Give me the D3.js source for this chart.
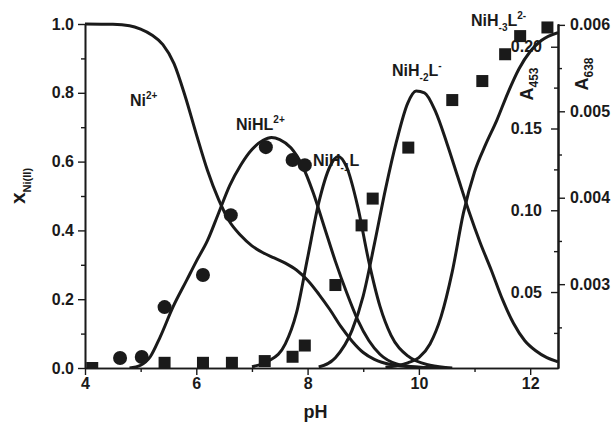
<!DOCTYPE html>
<html>
<head>
<meta charset="utf-8">
<script src="https://cdn.jsdelivr.net/npm/d3@7"></script>
<style>
  body { margin: 0; background: #fff; }
  svg text { font-family: "Liberation Sans", Arial, sans-serif; font-weight: bold; fill: #1a1a1a; }
</style>
</head>
<body>
<div id="chart"></div>
<script>
// species distribution curves, [pH, mole fraction]
const ni = [[4.0,1.0],[4.5,0.999],[4.8,0.995],[5.0,0.985],[5.2,0.968],[5.4,0.94],[5.6,0.885],[5.8,0.79],[6.0,0.68],[6.2,0.575],[6.4,0.49],[6.6,0.425],[6.8,0.385],[7.0,0.355],[7.2,0.335],[7.4,0.32],[7.6,0.305],[7.8,0.285],[8.0,0.255],[8.2,0.215],[8.4,0.17],[8.6,0.12],[8.8,0.078],[9.0,0.045],[9.2,0.025],[9.5,0.01],[10.0,0.002],[10.5,0]];
const niHL = [[4.8,0],[5.0,0.008],[5.17,0.032],[5.35,0.09],[5.58,0.177],[5.83,0.256],[6.0,0.31],[6.2,0.37],[6.4,0.45],[6.6,0.53],[6.8,0.59],[7.0,0.635],[7.2,0.662],[7.35,0.67],[7.5,0.664],[7.7,0.64],[7.9,0.59],[8.1,0.51],[8.3,0.41],[8.5,0.31],[8.7,0.22],[8.9,0.14],[9.1,0.08],[9.3,0.04],[9.6,0.012],[10.0,0.002],[10.4,0]];
const niH1L = [[7.0,0.004],[7.3,0.02],[7.6,0.07],[7.8,0.16],[8.0,0.32],[8.2,0.48],[8.4,0.585],[8.55,0.615],[8.7,0.585],[8.9,0.47],[9.1,0.31],[9.3,0.18],[9.5,0.095],[9.8,0.035],[10.2,0.008],[10.6,0]];
const niH2L = [[8.2,0.003],[8.5,0.03],[8.8,0.11],[9.0,0.21],[9.2,0.36],[9.4,0.52],[9.6,0.66],[9.8,0.77],[9.95,0.805],[10.1,0.8],[10.3,0.745],[10.5,0.655],[10.7,0.555],[10.9,0.455],[11.1,0.365],[11.3,0.285],[11.5,0.2],[11.7,0.13],[11.9,0.08],[12.1,0.05],[12.3,0.03],[12.5,0.018]];
const niH3L = [[9.4,0.002],[9.8,0.015],[10.0,0.03],[10.2,0.07],[10.4,0.15],[10.6,0.28],[10.8,0.45],[11.0,0.57],[11.2,0.65],[11.4,0.72],[11.6,0.8],[11.8,0.87],[12.0,0.92],[12.2,0.952],[12.5,0.975]];

// measured absorbances
const circlePH = [4.63,5.02,5.43,6.12,6.62,7.25,7.73,7.95];
const a453Vals = [0.0097,0.0103,0.0408,0.0604,0.097,0.1386,0.1307,0.1276];
const squarePH = [4.13,5.43,6.12,6.64,7.23,7.73,7.95,8.5,8.97,9.17,9.81,10.6,11.14,11.55,11.82,12.31];
const a638Vals = [0.00203,0.00209,0.00209,0.00209,0.00211,0.00216,0.00229,0.00299,0.00368,0.00399,0.00458,0.00513,0.00535,0.00566,0.00587,0.00597];

// ticks
const xTicks = [4,6,8,10,12];
const xMinor = [5,7,9,11];
const yTicks = [0,0.2,0.4,0.6,0.8,1.0];
const yMinor = [0.1,0.3,0.5,0.7,0.9];
const a453Ticks = [0.05,0.10,0.15,0.20];
const a453Minor = [0.025,0.075,0.125,0.175];
const a638Ticks = [0.003,0.004,0.005,0.006];
const a638Minor = [0.0025,0.0035,0.0045,0.0055];

const width = 614, height = 431;
const m = {left: 85, right: 558, top: 24, bottom: 368};

const svg = d3.select("#chart").append("svg")
  .attr("width", width).attr("height", height);

const x = d3.scaleLinear().domain([4, 12.5]).range([m.left, m.right]);
const y = d3.scaleLinear().domain([0, 1]).range([m.bottom, m.top]);
const yA453 = d3.scaleLinear().domain([0.00355, 0.2139]).range([m.bottom, m.top]);
const yA638 = d3.scaleLinear().domain([0.00203, 0.00601]).range([m.bottom, m.top]);

svg.append("clipPath").attr("id", "clip")
  .append("rect").attr("x", m.left).attr("y", 0).attr("width", m.right - m.left).attr("height", m.bottom);

function styleAxis(g) {
  g.selectAll("path.domain").attr("stroke", "#1a1a1a").attr("stroke-width", 1.6);
  g.selectAll(".tick line").attr("stroke", "#1a1a1a").attr("stroke-width", 1.4);
  g.selectAll(".tick text").attr("font-size", 16).attr("fill", "#1a1a1a")
    .attr("font-family", "Liberation Sans, Arial, sans-serif").attr("font-weight", "bold");
}

// bottom axis
svg.append("g").attr("transform", `translate(0,${m.bottom})`)
  .call(d3.axisBottom(x).tickValues(xMinor).tickSize(4).tickFormat("").tickSizeOuter(0))
  .call(styleAxis);
svg.append("g").attr("transform", `translate(0,${m.bottom})`)
  .call(d3.axisBottom(x).tickValues(xTicks).tickSize(7).tickPadding(3).tickFormat(d3.format("d")).tickSizeOuter(0))
  .call(styleAxis);

// left axis
svg.append("g").attr("transform", `translate(${m.left},0)`)
  .call(d3.axisLeft(y).tickValues(yMinor).tickSize(4).tickFormat("").tickSizeOuter(0))
  .call(styleAxis);
svg.append("g").attr("transform", `translate(${m.left},0)`)
  .call(d3.axisLeft(y).tickValues(yTicks).tickSize(7).tickPadding(4).tickFormat(d3.format(".1f")).tickSizeOuter(0))
  .call(styleAxis);

// right axes: A453 ticks inward, A638 ticks outward
svg.append("g").attr("transform", `translate(${m.right},0)`)
  .call(d3.axisLeft(yA453).tickValues(a453Minor).tickSize(4).tickFormat("").tickSizeOuter(0))
  .call(styleAxis);
svg.append("g").attr("transform", `translate(${m.right},0)`)
  .call(d3.axisLeft(yA453).tickValues(a453Ticks).tickSize(7).tickPadding(9).tickFormat(d3.format(".2f")).tickSizeOuter(0))
  .call(styleAxis);
svg.append("g").attr("transform", `translate(${m.right},0)`)
  .call(d3.axisRight(yA638).tickValues(a638Minor).tickSize(4).tickFormat("").tickSizeOuter(0))
  .call(styleAxis);
svg.append("g").attr("transform", `translate(${m.right},0)`)
  .call(d3.axisRight(yA638).tickValues(a638Ticks).tickSize(7).tickPadding(5).tickFormat(d3.format(".3f")).tickSizeOuter(0))
  .call(styleAxis);

// curves
const line = d3.line().x(d => x(d[0])).y(d => y(d[1])).curve(d3.curveMonotoneX);
const plot = svg.append("g").attr("clip-path", "url(#clip)");
plot.selectAll("path.curve")
  .data([ni, niHL, niH1L, niH2L, niH3L])
  .join("path")
  .attr("class", "curve")
  .attr("d", line)
  .attr("fill", "none")
  .attr("stroke", "#1a1a1a")
  .attr("stroke-width", 3);

// data points
const sq = 12;
plot.selectAll("rect.pt")
  .data(squarePH.map((p, i) => [p, a638Vals[i]]))
  .join("rect")
  .attr("class", "pt")
  .attr("x", d => x(d[0]) - sq / 2)
  .attr("y", d => yA638(d[1]) - sq / 2)
  .attr("width", sq).attr("height", sq)
  .attr("fill", "#1a1a1a");
plot.selectAll("circle.pt")
  .data(circlePH.map((p, i) => [p, a453Vals[i]]))
  .join("circle")
  .attr("class", "pt")
  .attr("cx", d => x(d[0]))
  .attr("cy", d => yA453(d[1]))
  .attr("r", 7)
  .attr("fill", "#1a1a1a");

// rich text helper: parts = [text, kind] where kind is undefined, "sub" or "sup"
function rich(sel, parts, size, small) {
  let cur = 0;
  parts.forEach(([t, kind]) => {
    const shift = kind === "sup" ? -size * 0.45 : kind === "sub" ? size * 0.3 : 0;
    sel.append("tspan")
      .attr("dy", shift - cur)
      .attr("font-size", kind ? small : size)
      .text(t);
    cur = shift;
  });
}

const labels = [
  {x: 130, y: 106, parts: [["Ni"], ["2+", "sup"]]},
  {x: 236, y: 130, parts: [["NiHL"], ["2+", "sup"]]},
  {x: 313, y: 166, parts: [["NiH"], ["-1", "sub"], ["L"]]},
  {x: 392, y: 76, parts: [["NiH"], ["-2", "sub"], ["L"], ["-", "sup"]]},
  {x: 471, y: 26, parts: [["NiH"], ["-3", "sub"], ["L"], ["2-", "sup"]]}
];
labels.forEach(l => {
  const t = svg.append("text").attr("x", l.x).attr("y", l.y);
  rich(t, l.parts, 16, 10);
});

// axis titles
svg.append("text").attr("x", (m.left + m.right) / 2 - 6).attr("y", 418)
  .attr("text-anchor", "middle").attr("font-size", 18).text("pH");

const yt = svg.append("text").attr("transform", "translate(25,186) rotate(-90)")
  .attr("text-anchor", "middle");
rich(yt, [["x"], ["Ni(II)", "sub"]], 21, 11);

const a1 = svg.append("text").attr("transform", "translate(533,84) rotate(-90)")
  .attr("text-anchor", "middle");
rich(a1, [["A"], ["453", "sub"]], 18, 12);

const a2 = svg.append("text").attr("transform", "translate(588,74) rotate(-90)")
  .attr("text-anchor", "middle");
rich(a2, [["A"], ["638", "sub"]], 18, 12);
</script>
</body>
</html>
